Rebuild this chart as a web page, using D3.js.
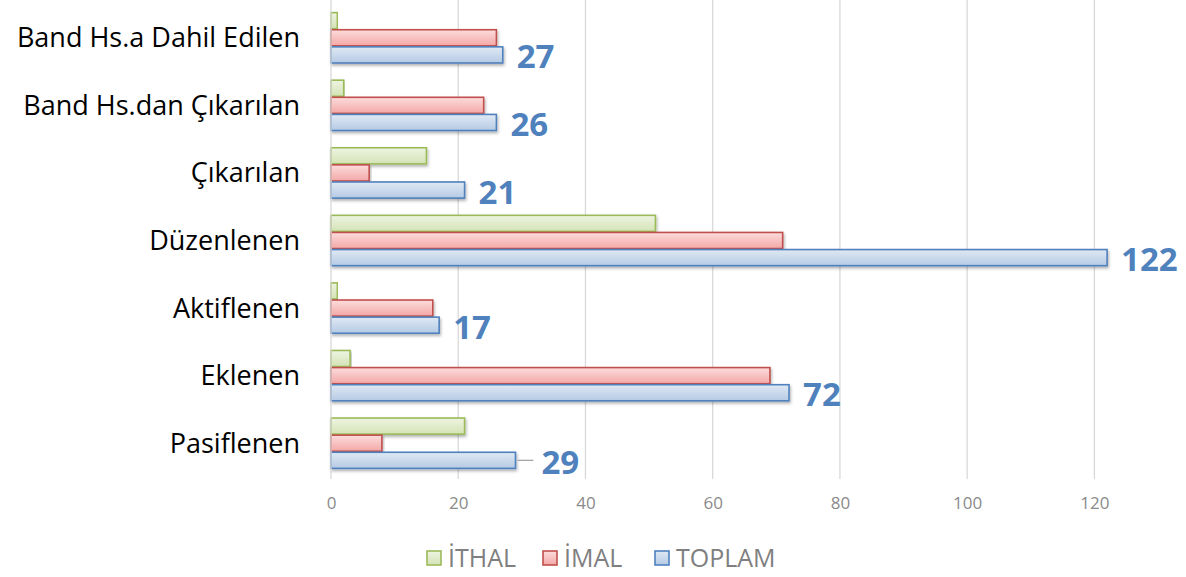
<!DOCTYPE html>
<html>
<head>
<meta charset="utf-8">
<script src="https://cdn.jsdelivr.net/npm/d3@7"></script>
<style>
  body { margin: 0; background: #fff; }
  svg text { font-family: "Open Sans", Lato, sans-serif; }
</style>
</head>
<body>
<div id="chart"></div>
<script>
// categories from top to bottom
const categories = ["Band Hs.a Dahil Edilen", "Band Hs.dan Çıkarılan", "Çıkarılan", "Düzenlenen", "Aktiflenen", "Eklenen", "Pasiflenen"];
const seriesNames = ["İTHAL", "İMAL", "TOPLAM"];
const ithal  = [1, 2, 15, 51, 1, 3, 21];
const imal   = [26, 24, 6, 71, 16, 69, 8];
const toplam = [27, 26, 21, 122, 17, 72, 29];
const xTicks = [0, 20, 40, 60, 80, 100, 120];

const W = 1186, H = 577;
const margin = {top: 4, right: 28, bottom: 100, left: 331};
const width = W - margin.left - margin.right;
const height = H - margin.top - margin.bottom;

const svg = d3.select("#chart").append("svg")
    .attr("width", W).attr("height", H);

const defs = svg.append("defs");
const styles = [
    {name: "ithal", stroke: "#9BBB59", c1: "#eef4e2", c2: "#d4e3b5"},
    {name: "imal", stroke: "#C0504D", c1: "#fcdcdc", c2: "#f3a8a7"},
    {name: "toplam", stroke: "#4F81BD", c1: "#e0e9f4", c2: "#b5cae4"}
];
styles.forEach(s => {
    const g = defs.append("linearGradient").attr("id", "grad-" + s.name)
        .attr("x1", 0).attr("y1", 0).attr("x2", 0).attr("y2", 1);
    g.append("stop").attr("offset", "0%").attr("stop-color", s.c1);
    g.append("stop").attr("offset", "100%").attr("stop-color", s.c2);
});
const filt = defs.append("filter").attr("id", "shadow")
    .attr("x", "-5%").attr("y", "-20%").attr("width", "110%").attr("height", "160%");
filt.append("feDropShadow").attr("dx", 1).attr("dy", 2).attr("stdDeviation", 1.5)
    .attr("flood-color", "#000").attr("flood-opacity", 0.3);

const g = svg.append("g").attr("transform", `translate(${margin.left},${margin.top})`);

const x = d3.scaleLinear().domain([0, 130]).range([0, width]);
const y = d3.scaleBand().domain(categories).range([0, height]).paddingInner(0.24).paddingOuter(0.12);
const ySub = d3.scaleBand().domain(seriesNames).range([0, y.bandwidth()]).padding(0);

// gridlines
g.selectAll(".grid").data(xTicks.slice(1)).enter().append("line")
    .attr("x1", d => x(d)).attr("x2", d => x(d))
    .attr("y1", -4).attr("y2", height + 2)
    .attr("stroke", "#d9d9d9").attr("stroke-width", 1.3);

// x axis labels
const xAxis = d3.axisBottom(x).tickValues(xTicks).tickSize(0).tickPadding(20);
const xg = g.append("g").attr("transform", `translate(0,${height})`).call(xAxis);
xg.select(".domain").remove();
xg.selectAll("text").attr("fill", "#8a8a8a").style("font-size", "17px")
    .style("font-family", "'Open Sans', sans-serif");

const rows = categories.map((c, i) => ({cat: c, vals: [ithal[i], imal[i], toplam[i]]}));

const groups = g.selectAll(".cat").data(rows).enter().append("g")
    .attr("transform", d => `translate(0,${y(d.cat)})`);

groups.selectAll("rect").data(d => d.vals.map((v, j) => ({v, j}))).enter().append("rect")
    .attr("x", 0)
    .attr("y", d => ySub(seriesNames[d.j]) + 0.5)
    .attr("width", d => x(d.v))
    .attr("height", ySub.bandwidth() - 1)
    .attr("fill", d => `url(#grad-${styles[d.j].name})`)
    .attr("stroke", d => styles[d.j].stroke)
    .attr("stroke-width", 1.6)
    .attr("filter", "url(#shadow)");

// axis line on left
g.append("line").attr("x1", 0).attr("x2", 0).attr("y1", -4).attr("y2", height + 2)
    .attr("stroke", "#d9d9d9").attr("stroke-width", 1.3);

// category labels
g.selectAll(".catlabel").data(categories).enter().append("text")
    .attr("x", -31)
    .attr("y", d => y(d) + y.bandwidth() / 2)
    .attr("dy", "0.35em")
    .attr("text-anchor", "end")
    .attr("fill", "#000")
    .style("font-size", "27px")
    .text(d => d);

// data labels for TOPLAM
const tY = ySub("TOPLAM") + ySub.bandwidth() / 2;
groups.append("text")
    .attr("x", d => x(d.vals[2]) + (d.cat === "Pasiflenen" ? 26 : 14))
    .attr("y", tY + 2)
    .attr("dy", "0.35em")
    .attr("fill", "#4F81BD")
    .style("font-size", "33px")
    .style("font-weight", "bold")
    .text(d => d.vals[2]);

// leader line for Pasiflenen
groups.filter(d => d.cat === "Pasiflenen").append("line")
    .attr("x1", d => x(d.vals[2]) + 2).attr("x2", d => x(d.vals[2]) + 18)
    .attr("y1", tY).attr("y2", tY)
    .attr("stroke", "#a6a6a6").attr("stroke-width", 1.3);

// legend
const legendX = [427, 543, 655];
const legend = svg.append("g").attr("transform", `translate(0,558)`);
seriesNames.forEach((s, i) => {
    const lg = legend.append("g").attr("transform", `translate(${legendX[i]},0)`);
    lg.append("rect").attr("x", 0).attr("y", -7).attr("width", 14).attr("height", 14)
        .attr("fill", `url(#grad-${styles[i].name})`)
        .attr("stroke", styles[i].stroke).attr("stroke-width", 1.6);
    lg.append("text").attr("x", 21).attr("y", 0).attr("dy", "0.36em")
        .attr("fill", "#7f7f7f").style("font-size", "25px").text(s);
});
</script>
</body>
</html>
